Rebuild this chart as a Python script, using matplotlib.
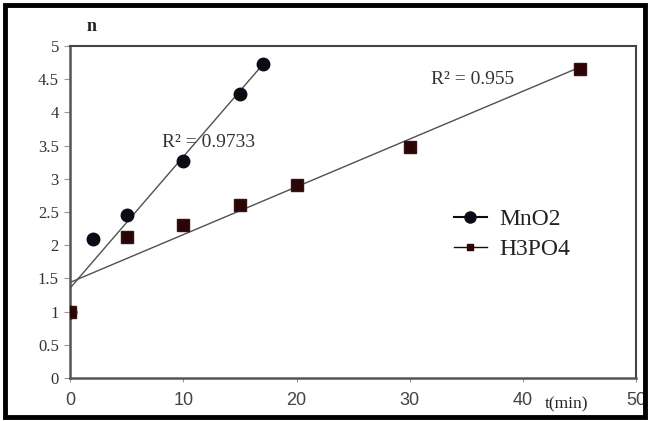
import numpy as np
import matplotlib
matplotlib.use('Agg')
import matplotlib.pyplot as plt
from matplotlib.patches import Rectangle
from matplotlib.lines import Line2D

# data
t_mno2 = [0, 2, 5, 10, 15, 17]
n_mno2 = [1.0, 2.1, 2.45, 3.26, 4.28, 4.72]
t_h3po4 = [0, 5, 10, 15, 20, 30, 45]
n_h3po4 = [1.0, 2.13, 2.31, 2.6, 2.9, 3.48, 4.65]
x_ticks = [0, 10, 20, 30, 40, 50]
y_ticks = [0, 0.5, 1, 1.5, 2, 2.5, 3, 3.5, 4, 4.5, 5]
y_labels = ['0', '0.5', '1', '1.5', '2', '2.5', '3', '3.5', '4', '4.5', '5']

serif = 'Liberation Serif'
sans = 'Liberation Sans'

fig = plt.figure(figsize=(6.51, 4.21), dpi=100)
ax = fig.add_axes([0.1075, 0.102, 0.87, 0.789])

# trend lines (linear fit)
for tx, ny in [(t_mno2, n_mno2), (t_h3po4, n_h3po4)]:
    k, b = np.polyfit(tx, ny, 1)
    xx = np.array([0, max(tx)])
    ax.plot(xx, k * xx + b, color='#505050', lw=1.0, zorder=2)

ax.plot(t_mno2, n_mno2, 'o', color='#0b0b16', ms=9, zorder=3)
ax.plot(t_h3po4, n_h3po4, 's', color='#2a0508', mec='#3a1010', ms=8.5, zorder=4)

# legend
h1 = Line2D([], [], color='#0b0b16', marker='o', ms=8, lw=1.5)
h2 = Line2D([], [], color='#2a0508', marker='s', ms=5, lw=1.0)
ax.legend([h1, h2], ['MnO2', 'H3PO4'], loc='center left', bbox_to_anchor=(0.64, 0.432),
          frameon=False, prop={'family': serif, 'size': 17}, handlelength=1.4,
          labelspacing=0.35, handletextpad=0.55, labelcolor='#222222')

ax.text(12.2, 3.54, 'R² = 0.9733', family=serif, fontsize=14, color='#333333',
        ha='center', va='center')
ax.text(35.5, 4.49, 'R² = 0.955', family=serif, fontsize=14, color='#333333',
        ha='center', va='center')

ax.set_xlim(0, 50)
ax.set_ylim(0, 5)
ax.set_xticks(x_ticks)
ax.set_xticklabels([str(v) for v in x_ticks], family=sans, fontsize=13, color='#444444')
ax.set_yticks(y_ticks)
ax.set_yticklabels(y_labels, family=serif, fontsize=12, color='#333333')
ax.tick_params(axis='x', length=3, color='#999999', pad=7)
ax.tick_params(axis='y', length=4, color='#999999', pad=4)

for s in ['left', 'bottom']:
    ax.spines[s].set_color('#555555')
    ax.spines[s].set_linewidth(1.8)
for s in ['top', 'right']:
    ax.spines[s].set_color('#444444')
    ax.spines[s].set_linewidth(1.5)

fig.text(0.141, 0.936, 'n', family=serif, fontsize=13, fontweight='bold',
         ha='center', va='center', color='#222222')
fig.text(0.871, 0.04, 't(min)', family=serif, fontsize=12.5, ha='center',
         va='center', color='#222222')

# outer frame of the picture
fig.patches.append(Rectangle((0.008, 0.01), 0.983, 0.977, transform=fig.transFigure,
                             fill=False, edgecolor='black', lw=3.5))

fig.savefig('out.png', dpi=100)
